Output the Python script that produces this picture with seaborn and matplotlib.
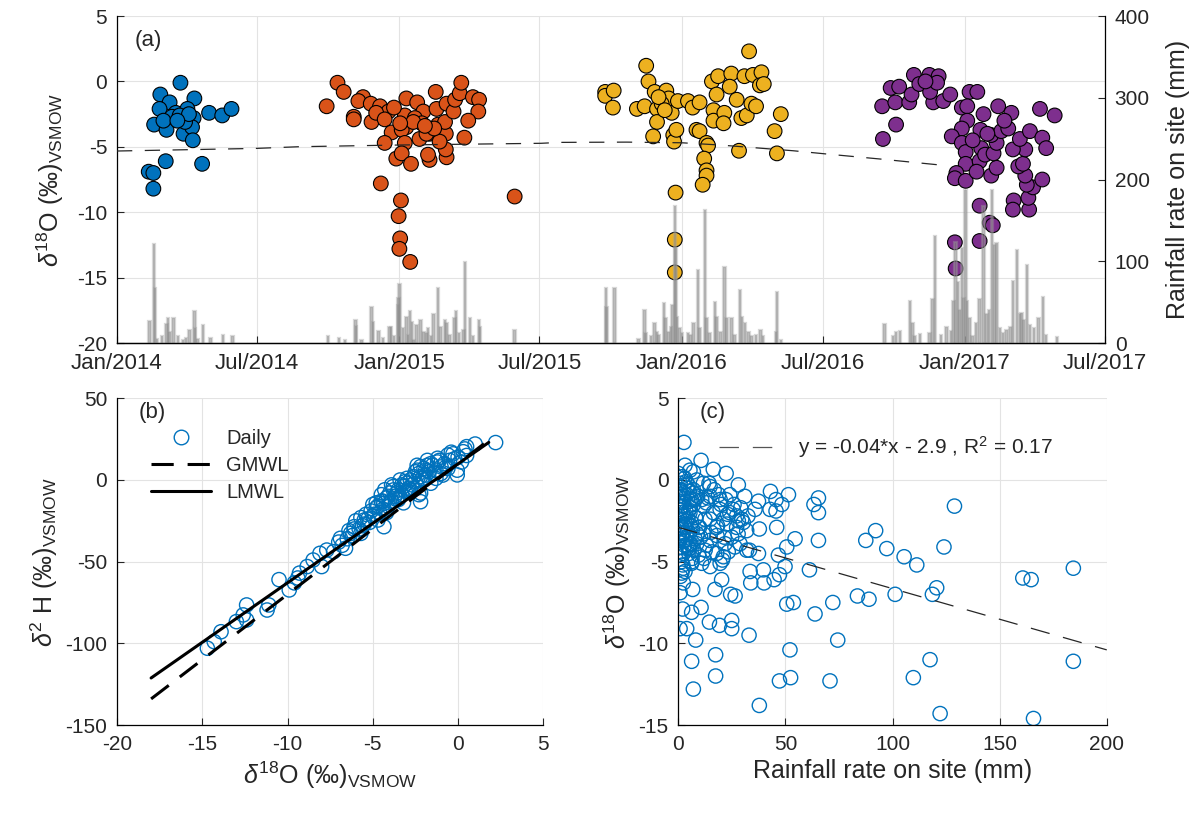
import numpy as np
import pandas as pd
import matplotlib
matplotlib.use("Agg")
import matplotlib.pyplot as plt
import matplotlib.dates as mdates
from matplotlib.lines import Line2D
import seaborn as sns

# ---------------- DATA ----------------
# (a) daily delta18O samples, day offsets from 2014-01-01
days_2014 = [82, 56, 68, 100, 55, 76, 91, 119, 136, 148, 48, 64, 71, 60, 86, 99, 97, 98, 81, 63,
             110, 41, 47, 47, 88, 93, 78]
d18O_2014 = [-0.1, -1.0, -1.6, -1.3, -2.1, -2.4, -2.1, -2.4, -2.6, -2.1, -3.3, -3.7, -2.7, -3.0, -4.0,
             -2.8, -3.5, -4.5, -2.6, -6.1, -6.3, -6.9, -7.0, -8.2, -3.1, -2.5, -3.0]

days_2015 = [271, 285, 293, 318, 312, 328, 340, 351, 306, 306, 329, 335, 346, 355, 346, 374, 388, 396,
             372, 385, 394, 374, 368, 372, 361, 368, 380, 391, 404, 404, 402, 412, 413, 415, 425, 424,
             426, 425, 417, 426, 435, 437, 443, 445, 460, 468, 467, 454, 449, 341, 367, 364, 366, 365,
             379, 514, 383, 366, 358, 400, 410, 398]
d18O_2015 = [-1.9, -0.1, -0.8, -1.2, -1.5, -1.7, -1.9, -2.3, -2.7, -2.9, -3.1, -2.4, -2.9, -3.9, -4.7,
             -1.3, -1.6, -2.3, -2.6, -2.8, -3.2, -3.5, -3.7, -4.7, -5.9, -5.5, -6.3, -4.4, -4.0, -6.0,
             -5.6, -0.8, -2.1, -3.3, -4.0, -3.1, -5.8, -5.2, -4.6, -1.7, -2.3, -1.4, -0.9, -0.1, -1.2,
             -1.4, -2.3, -3.0, -4.3, -7.8, -9.1, -10.3, -12.0, -12.8, -13.8, -8.8, -3.1, -3.2, -2.0,
             -4.0, -3.6, -3.4]

days_2016 = [631, 631, 642, 641, 684, 687, 672, 682, 695, 698, 710, 713, 704, 717, 698, 693, 719, 720,
             723, 725, 738, 744, 753, 749, 753, 762, 764, 759, 762, 762, 757, 722, 721, 721, 769, 777,
             775, 771, 771, 785, 784, 794, 792, 801, 807, 814, 811, 822, 817, 833, 831, 836, 820, 826,
             804, 850, 853, 858, 700, 708]
d18O_2016 = [-0.8, -1.1, -0.7, -2.0, 1.2, 0.0, -2.1, -1.9, -0.8, -2.1, -0.7, -1.3, -1.7, -2.4, -3.1,
             -4.2, -4.1, -4.6, -3.7, -1.5, -1.5, -2.0, -1.6, -3.7, -3.8, -4.7, -4.9, -5.9, -6.8, -7.2,
             -7.9, -8.5, -12.1, -14.6, 0.0, 0.4, -1.0, -2.2, -3.0, -2.4, -3.2, 0.6, -0.4, -1.4, -2.8,
             -2.6, 0.4, 0.5, 2.3, 0.7, -0.3, -0.2, -1.7, -1.9, -5.3, -3.8, -5.5, -2.5, -1.2, -2.2]

days_2017 = [990, 1007, 989, 1006, 1000, 1011, 1024, 1027, 1030, 1037, 1050, 1062, 1055, 1051, 1068,
             1077, 1092, 1102, 1112, 1099, 1099, 1092, 1079, 1092, 1097, 1097, 1085, 1083, 1097, 1120,
             1116, 1117, 1115, 1111, 1122, 1130, 1137, 1133, 1137, 1130, 1139, 1143, 1152, 1156, 1115,
             1128, 1132, 1115, 1083, 1084, 1159, 1158, 1179, 1178, 1184, 1176, 1196, 1174, 1165, 1171,
             1174, 1158, 1167, 1180, 1196, 1201, 1193, 1212, 1060, 1045, 1106, 1125, 1147]
d18O_2017 = [-4.4, -3.3, -1.9, -1.6, -0.5, -0.4, -1.6, -1.0, 0.5, -0.2, 0.5, 0.4, -1.6, -0.8, -1.5,
             -1.0, -2.0, -0.8, -0.8, -1.9, -3.0, -3.6, -4.2, -4.7, -5.4, -6.3, -7.0, -7.4, -7.6, -2.5,
             -3.7, -5.1, -6.1, -6.9, -5.6, -7.2, -6.6, -5.5, -4.7, -4.1, -1.9, -3.8, -3.6, -2.4, -9.5,
             -10.8, -11.0, -12.2, -12.3, -14.3, -9.1, -9.8, -9.8, -8.9, -8.1, -7.9, -7.5, -7.2, -6.5,
             -6.3, -5.2, -5.2, -4.4, -3.8, -4.3, -5.1, -2.1, -2.6, -0.1, 0.0, -4.5, -4.0, -3.0]

# (a) long-term trend (dashed)
trend_days = [0, 180, 236, 366, 548, 573, 659, 730, 779, 831, 874, 921, 986, 1064]
trend_d18O = [-5.32, -5.12, -4.99, -4.86, -4.73, -4.66, -4.64, -4.69, -4.86, -5.10, -5.30, -5.57, -5.93, -6.39]

# (a) daily rainfall (mm), day offsets from 2014-01-01
rain_days = [42, 48, 49, 58, 64, 66, 68, 73, 79, 89, 94, 100, 101, 111, 121, 137, 149, 52, 85, 104,
             273, 287, 295, 308, 309, 316, 329, 331, 338, 352, 354, 363, 364, 365, 370, 374, 379, 381,
             387, 392, 396, 402, 409, 415, 418, 424, 426, 436, 438, 448, 450, 456, 468, 469, 514, 383,
             344, 358, 376, 400, 406, 430, 442, 460,
             632, 633, 643, 674, 682, 683, 695, 698, 707, 709, 716, 718, 721, 722, 724, 727, 738, 745,
             751, 753, 760, 762, 773, 775, 785, 788, 794, 805, 808, 812, 816, 820, 832, 835, 853, 852,
             858, 690, 700, 713, 730, 741, 766, 780, 798, 826,
             992, 1003, 1007, 1012, 1025, 1028, 1031, 1038, 1050, 1054, 1057, 1072, 1081, 1084, 1087,
             1092, 1094, 1097, 1099, 1106, 1115, 1120, 1124, 1131, 1134, 1137, 1141, 1150, 1158, 1163,
             1167, 1169, 1176, 1180, 1191, 1197, 1201, 1215, 1065, 1078, 1089, 1102, 1110, 1127, 1145,
             1155, 1172, 1185]
rain_mm = [27, 121, 67, 8, 23, 31, 14, 30, 8, 6, 16, 39, 18, 22, 6, 10, 9, 5, 4, 5,
           8, 6, 4, 28, 21, 4, 44, 26, 15, 19, 20, 46, 55, 72, 18, 32, 39, 26,
           22, 28, 14, 18, 35, 67, 20, 28, 24, 31, 39, 16, 99, 31, 28, 20, 16, 4,
           6, 8, 10, 12, 9, 10, 12, 8,
           67, 44, 67, 5, 40, 12, 24, 14, 49, 31, 20, 47, 168, 116, 32, 18, 12, 24,
           89, 18, 163, 31, 50, 32, 93, 31, 30, 65, 32, 24, 14, 8, 16, 8, 63, 14,
           4, 8, 10, 14, 12, 10, 12, 14, 10, 10,
           23, 9, 14, 15, 51, 25, 8, 11, 12, 54, 131, 20, 52, 124, 75,
           116, 55, 187, 51, 8, 54, 168, 35, 187, 120, 122, 18, 16, 76, 114,
           35, 37, 95, 22, 31, 56, 10, 7, 10, 15, 40, 30, 25, 40, 12,
           20, 28, 18]

# (b) dual isotope plot
d18O_b = [2.2, 1.0, 0.5, 0.3, -0.05, -0.05, -0.6, -1.2, -2.2, -2.4, -2.8, -2.2, -3.4, -3.8, -4.35,
          -4.5, -4.35, -4.7, -5.5, -5.7, -6.1, -6.3, -6.9, -6.6, -7.3, -7.7, -8.1, -8.0, -8.5, -8.85,
          -9.3, -9.4, -9.9, -9.6, -10.5, -11.2, -11.1, -12.4, -12.6, -12.4, -13.0, -13.9, -14.3, -14.7,
          -0.5, -0.8, -1.0, -1.3, -1.5, -1.7, -1.9, -2.0, -2.1, -2.3, -2.5, -2.6, -2.7, -2.9, -3.0,
          -3.1, -3.2, -3.3, -3.5, -3.6, -3.7, -3.9, -4.0, -4.1, -4.2, -4.4, -4.6, -4.8, -5.0, -5.2,
          -5.4, -5.6, -5.8, -6.0, -6.2, -6.5, -6.8, -7.0, 0.0, 0.2, -0.3, 0.5, -1.1, -1.8, -2.4, -3.4,
          -2.2, -1.6, -0.9, -4.3, -4.8, -5.0]
d2H_b = [22.9, 22.0, 20.4, 17.3, 3.1, 6.0, 15.3, 13.3, 8.2, 6.0, 0.0, -13.3, -10.2, -6.1, -14.3,
         -13.0, -28.6, -24.5, -24.5, -32.7, -28.6, -32.7, -35.7, -41.8, -43.9, -42.9, -44.9, -53.0, -49.0,
         -53.0, -57.0, -60.0, -67.3, -63.0, -61.0, -79.6, -76.5, -76.5, -82.6, -85.7, -86.7, -92.9, -99.0,
         -103.0,
         12, 10, 8, 6, 9, 5, 3, 7, 1, 4, -1, 2, -3, -5, -2,
         -7, -4, -9, -6, -12, -10, -13, -8, -16, -11, -18, -20, -17, -22, -26,
         -21, -28, -30, -25, -34, -36, -40, -38, 14, 11, 16, 15, 12, 9, 9, 0,
         -8, -2, 3, -6, -14, -15]
d18O_b2 = [-0.2, -0.7, -1.2, -1.4, -1.9, -2.2, -2.5, -2.8, -3.0, -3.3, -3.6, -3.8, -4.1, -4.4, -4.7,
           -5.1, -5.3, -5.7, -6.1, -6.4, 0.4, -0.4, -1.0, -1.6, -2.0, -2.6, -3.1, -3.5, -4.0, -4.5,
           -4.9, -5.5, -1.8, -2.9, -3.9, -0.6, -1.3, -2.3, -3.2, -4.2]
d2H_b2 = [13, 8, 11, 4, 6, 2, 5, -6, 1, -3, -8, -4, -10, -13, -16, -19, -24, -23, -30, -31,
          19, 17, 4, 10, 0, -5, -1, -12, -14, -9, -21, -27, 12, -7, -3, 7, 1, -9, -14, -20]
gmwl_x = [-18.0, 1.8]
gmwl_y = [-134.0, 24.4]
lmwl_x = [-18.0, 1.8]
lmwl_y = [-121.2, 23.0]

# (c) rainfall vs delta18O
rain_c = [2.6, 10.6, 16.3, 22.3, 28, 31, 24, 43, 51.4, 37.4, 35.8, 45.6, 48.3, 42.8, 45.6, 37.8, 45.9,
          54.5, 50.6, 33.2, 37.4, 46.7, 33.5, 39.7, 49.8, 61.2, 47.2, 44.7, 33.8, 40, 65.4, 63.3, 65.4,
          65.4, 128.9, 92.1, 87.5, 97.3, 105.4, 111.3, 124, 184.4, 160.8, 164.7, 120.6, 118.6, 101.2,
          83.6, 89, 72.1, 50.6, 53.7, 63.8, 74.4, 52.1, 33, 117.5, 184.4, 109.7, 70.8, 52.4, 47.2,
          37.8, 122.2, 165.8, 17.4, 6.2, 17.4, 7, 8.1, 0.8, 3.9, 14.5, 19.2, 24.9, 24.9, 10.6, 6.2, 2,
          0.8, 6.7, 17.1, 20.2, 24.4, 26.5, 1.6, 2.3,
          0, 5.4, 3.1, 7.0, 0.8, 11.7, 14.8, 19.5, 10.9, 19.5, 24, 27.2, 29.6, 27.2, 28, 22.6, 17.9,
          14.8, 11.7, 8.6, 14.8, 21.8, 23.3, 21, 14.8, 10.9, 6.2, 2.3, 2.3, 0.8, 3.9, 0.8, 0, 7, 11.7,
          16.3, 5.4, 3.1, 9.3, 12.5, 17.9, 19.5, 5.4, 31.9, 28.8, 31.9, 24.9, 21, 14.8, 8.6, 1.5, 1.0,
          4.5, 2.0, 6.0, 9.0, 13.0, 3.5, 1.2, 0.5, 4.0, 8.0, 2.5, 1.0, 26.0, 18.0, 12.0, 0.3, 3.0, 5.0]
d18O_c = [2.3, 1.2, 0.65, 0.4, -0.3, -1.0, -0.9, -0.7, -0.9, -1.3, -1.8, -1.2, -1.5, -1.8, -1.9, -3.0,
          -2.9, -3.6, -4.1, -4.3, -4.5, -4.6, -5.6, -5.5, -5.3, -5.5, -5.8, -6.1, -6.3, -6.3, -1.1,
          -1.5, -2.0, -3.7, -1.6, -3.1, -3.7, -4.2, -4.7, -5.2, -4.1, -5.4, -6.0, -6.1, -6.6, -7.0,
          -7.0, -7.1, -7.3, -7.5, -7.6, -7.5, -8.2, -9.8, -10.4, -9.5, -11.0, -11.1, -12.1, -12.3,
          -12.1, -12.3, -13.8, -14.3, -14.6, -10.7, -11.1, -12.0, -12.8, -9.8, -9.1, -9.1, -8.7, -8.9,
          -8.6, -9.1, -7.8, -8.1, -7.9, -6.9, -6.7, -6.7, -6.1, -7.0, -7.1, -5.7, -6.3,
          0.4, 0.6, 0.9, 0.5, -0.2, -0.2, -0.4, -1.2, -1.2, -1.8, -2.0, -2.2, -2.4, -2.9, -2.5, -2.7,
          -2.9, -2.4, -3.3, -3.9, -3.7, -3.9, -4.4, -4.7, -5.3, -5.1, -5.1, -4.5, -5.4, -4.1, -3.5,
          -2.4, -1.0, -0.6, -1.6, -2.0, -2.0, -2.9, -2.9, -4.3, -4.5, -5.1, -3.9, -3.1, -3.9, -4.3,
          -3.5, -2.4, -1.0, 0.0, -1.6, -0.6, -0.3, -3.0, -1.2, -1.0, -1.4, -1.9, -2.8, -3.6, -4.0,
          -2.3, -0.8, -5.9, -1.5, -3.4, -4.8, -1.3, 0.1, -4.2]
rain_c2 = [0.5, 1.8, 2.4, 3.9, 4.3, 5.6, 6.1, 7.8, 8.4, 9.9, 0.3, 1.1, 2.7, 3.3, 4.8, 5.2, 6.9, 7.1,
           8.8, 9.4, 0.9, 1.6, 2.1, 3.6, 4.5, 5.9, 6.4, 7.5, 8.1, 10.4, 0.6, 1.3, 2.9, 3.1, 4.1, 5.4,
           6.6, 7.3, 1.9, 2.3, 3.7, 4.6, 5.1, 6.3, 0.8, 1.5, 2.6, 3.4, 4.9, 5.7,
           12.4, 13.8, 15.2, 16.7, 18.3, 19.9, 21.4, 23.0, 25.6, 27.9, 30.3, 13.1, 15.9, 18.8, 22.2,
           26.4, 29.1, 32.5, 14.3, 20.6]
d18O_c2 = [-0.6, -1.4, -2.2, -0.9, -3.1, -1.7, -2.6, -3.6, -1.1, -2.9, -3.8, -4.4, -0.3, -2.7, -1.9,
           -4.2, -0.8, -1.5, -3.3, -4.6, -2.0, -3.4, -5.2, -0.1, -2.4, -3.9, -4.8, -1.2, -2.3, -3.5,
           -1.8, -2.9, -4.0, -5.6, -0.5, -1.3, -3.0, -4.3, 0.2, -1.0, -2.5, -4.1, -0.7, -5.0, -3.2,
           -5.0, -1.6, -3.7, -4.5, -2.8,
           -2.4, -1.1, -3.2, -0.6, -2.8, -1.5, -3.5, -2.1, -1.8, -3.3, -2.6, -4.0, -4.4, -0.9, -1.2,
           -4.1, -1.7, -2.2, -0.2, -4.9]
fit_x = [0, 200]
fit_y = [-2.9, -10.4]

season_colors = ['#0072BD', '#D95319', '#EDB120', '#7E2F8E']

# ---------------- STYLE ----------------
sns.set_theme(style="ticks")
plt.rcParams['font.family'] = ['Liberation Sans', 'DejaVu Sans']
plt.rcParams.update({
    'mathtext.fontset': 'custom',
    'mathtext.rm': 'Liberation Sans',
    'mathtext.it': 'Liberation Sans:italic',
    'mathtext.bf': 'Liberation Sans:bold',
    'axes.unicode_minus': False,
    'xtick.direction': 'in', 'ytick.direction': 'in',
    'xtick.major.size': 5, 'ytick.major.size': 5,
    'xtick.major.width': 0.8, 'ytick.major.width': 0.8,
    'xtick.labelsize': 15, 'ytick.labelsize': 15,
    'xtick.major.pad': 7, 'ytick.major.pad': 7,
    'axes.labelsize': 18,
    'axes.edgecolor': 'black', 'axes.linewidth': 0.9,
    'lines.scale_dashes': False,
    'xtick.color': '#262626', 'ytick.color': '#262626',
    'axes.labelcolor': '#262626', 'text.color': '#262626',
})
GRID = '#e3e3e3'

fig = plt.figure(figsize=(12, 8.14), dpi=100)
axA = fig.add_axes([0.0975, 0.5786, 0.8233, 0.4017])
axB = fig.add_axes([0.0975, 0.1093, 0.3553, 0.4014])
axC = fig.add_axes([0.5653, 0.1093, 0.357, 0.4014])

start = pd.Timestamp('2014-01-01')
def to_dates(d):
    return start + pd.to_timedelta(np.asarray(d), unit='D')

# ---------------- (a) ----------------
frames = []
for i, (dd, vv) in enumerate([(days_2014, d18O_2014), (days_2015, d18O_2015),
                              (days_2016, d18O_2016), (days_2017, d18O_2017)]):
    frames.append(pd.DataFrame({'date': to_dates(dd), 'd18O': vv, 'season': i}))
dfa = pd.concat(frames, ignore_index=True)

axA.grid(True, color=GRID, linewidth=0.8)
axA.set_axisbelow(True)
sns.scatterplot(data=dfa, x='date', y='d18O', hue='season', palette=season_colors,
                s=112, edgecolor='black', linewidth=0.8, legend=False, ax=axA, zorder=3)
sns.lineplot(x=to_dates(trend_days), y=trend_d18O, ax=axA, color='#262626',
             linewidth=0.9, zorder=4)
axA.lines[-1].set_dashes([11, 9])
axA.set_ylim(-20, 5)
axA.set_yticks([-20, -15, -10, -5, 0, 5])
axA.set_xlim(pd.Timestamp('2014-01-01'), pd.Timestamp('2017-07-01'))
axA.xaxis.set_major_locator(mdates.MonthLocator(bymonth=[1, 7]))
axA.xaxis.set_major_formatter(mdates.DateFormatter('%b/%Y'))
axA.tick_params(axis='x', labelsize=16)
axA.set_xlabel('')
axA.set_ylabel(r'$\delta^{18}$O (‰)$_{\mathrm{VSMOW}}$', labelpad=8)
for s in ['top', 'right']:
    axA.spines[s].set_visible(False)

axA2 = axA.twinx()
axA2.bar(to_dates(rain_days), rain_mm, width=3.2, color=(0.5, 0.5, 0.5, 0.5),
         edgecolor=(0.62, 0.62, 0.62, 0.4), linewidth=1.6, zorder=2)
axA2.set_ylim(0, 400)
axA2.set_yticks([0, 100, 200, 300, 400])
axA2.set_ylabel('Rainfall rate on site (mm)', labelpad=12)
axA2.spines['top'].set_visible(False)
axA2.spines['left'].set_visible(False)
axA2.tick_params(axis='y', direction='in')
axA.text(0.018, 0.925, '(a)', transform=axA.transAxes, fontsize=16, va='center')

# ---------------- (b) ----------------
axB.grid(True, color=GRID, linewidth=0.8)
axB.set_axisbelow(True)
sns.scatterplot(x=d18O_b + d18O_b2, y=d2H_b + d2H_b2, ax=axB, s=105, marker='o',
                legend=False, zorder=2)
cb = axB.collections[-1]
cb.set_facecolor('none')
cb.set_edgecolor('#0072BD')
cb.set_linewidth(1.0)
sns.lineplot(x=gmwl_x, y=gmwl_y, ax=axB, color='black', linewidth=2.2, zorder=3)
axB.lines[-1].set_dashes([16, 10])
sns.lineplot(x=lmwl_x, y=lmwl_y, ax=axB, color='black', linewidth=2.2, zorder=3)
axB.set_xlim(-20, 5)
axB.set_ylim(-150, 50)
axB.set_xticks([-20, -15, -10, -5, 0, 5])
axB.set_yticks([-150, -100, -50, 0, 50])
axB.set_xlabel(r'$\delta^{18}$O (‰)$_{\mathrm{VSMOW}}$')
axB.set_ylabel(r'$\delta^{2}$ H (‰)$_{\mathrm{VSMOW}}$')
for s in ['top', 'right']:
    axB.spines[s].set_visible(False)
handles = [Line2D([], [], marker='o', ls='none', mfc='none', mec='#0072BD', ms=10.5, mew=1.0),
           Line2D([], [], color='black', lw=2.2, dashes=[16, 10]),
           Line2D([], [], color='black', lw=2.2)]
axB.legend(handles, ['Daily', 'GMWL', 'LMWL'], loc='upper left', bbox_to_anchor=(0.06, 0.93),
           frameon=False, fontsize=14.5, handlelength=3.0, labelspacing=0.4, handletextpad=0.75,
           borderaxespad=0.0)
axB.text(0.05, 0.955, '(b)', transform=axB.transAxes, fontsize=16, va='center')

# ---------------- (c) ----------------
axC.grid(True, color=GRID, linewidth=0.8)
axC.set_axisbelow(True)
sns.scatterplot(x=rain_c + rain_c2, y=d18O_c + d18O_c2, ax=axC, s=105, marker='o',
                legend=False, zorder=2)
cc = axC.collections[-1]
cc.set_facecolor('none')
cc.set_edgecolor('#0072BD')
cc.set_linewidth(1.0)
sns.lineplot(x=fit_x, y=fit_y, ax=axC, color='#262626', linewidth=0.9, zorder=3)
axC.lines[-1].set_dashes([14, 10])
axC.set_xlim(0, 200)
axC.set_ylim(-15, 5)
axC.set_xticks([0, 50, 100, 150, 200])
axC.set_yticks([-15, -10, -5, 0, 5])
axC.set_xlabel('Rainfall rate on site (mm)')
axC.set_ylabel(r'$\delta^{18}$O (‰)$_{\mathrm{VSMOW}}$')
for s in ['top', 'right']:
    axC.spines[s].set_visible(False)
axC.legend([Line2D([], [], color='#555555', lw=0.9, dashes=[14, 10])],
           [r'y = -0.04*x - 2.9 , R$^{2}$ = 0.17'], loc='upper left',
           bbox_to_anchor=(0.075, 0.915), frameon=False, fontsize=15, handlelength=3.0,
           handletextpad=0.8, borderaxespad=0.0)
axC.text(0.05, 0.955, '(c)', transform=axC.transAxes, fontsize=16, va='center')

fig.savefig('out.png', dpi=100)
